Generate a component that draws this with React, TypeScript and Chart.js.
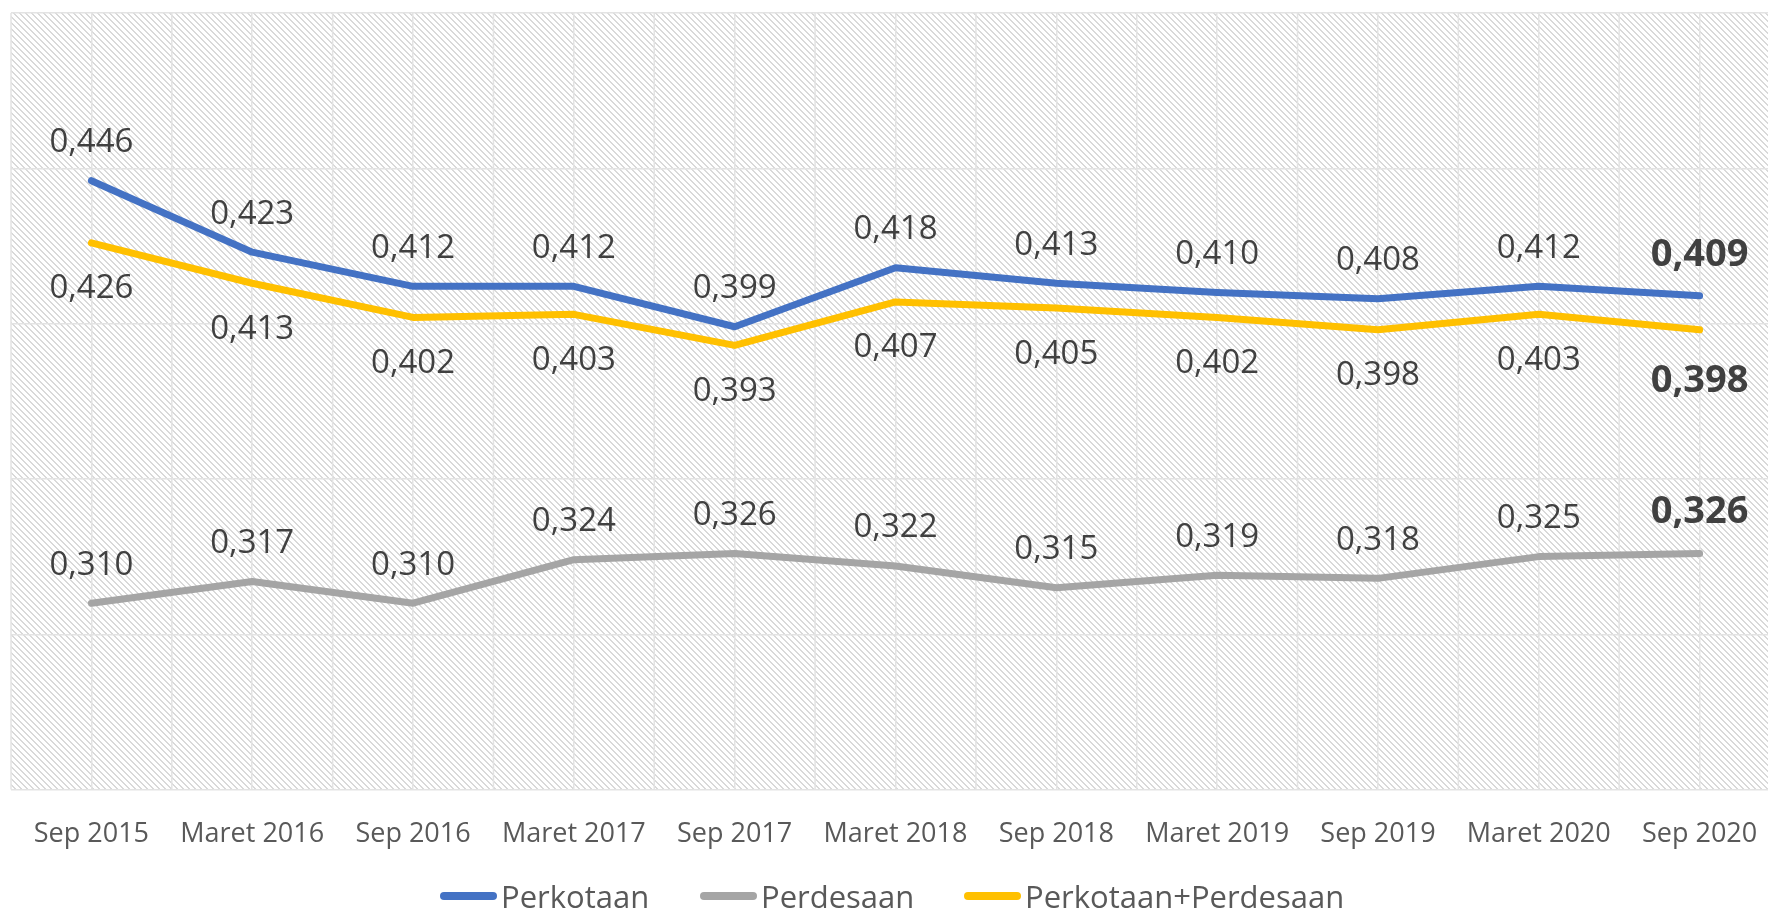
import React, { useEffect, useRef } from "react";
import { Chart, registerables } from "chart.js";

Chart.register(...registerables);

const categories = [
  "Sep 2015", "Maret 2016", "Sep 2016", "Maret 2017", "Sep 2017", "Maret 2018",
  "Sep 2018", "Maret 2019", "Sep 2019", "Maret 2020", "Sep 2020",
];
const perkotaan = [0.446, 0.423, 0.412, 0.412, 0.399, 0.418, 0.413, 0.41, 0.408, 0.412, 0.409];
const perdesaan = [0.31, 0.317, 0.31, 0.324, 0.326, 0.322, 0.315, 0.319, 0.318, 0.325, 0.326];
const gabungan = [0.426, 0.413, 0.402, 0.403, 0.393, 0.407, 0.405, 0.402, 0.398, 0.403, 0.398];
const seriesNames = ["Perkotaan", "Perdesaan", "Perkotaan+Perdesaan"];
const seriesColors = ["#4472C4", "#A5A5A5", "#FFC000"];
const labelSide = [-1, -1, 1]; // -1 above, +1 below
const yMin = 0.25;
const yMax = 0.5;
const yStep = 0.05;

const FONT = "'Open Sans', 'Noto Sans', sans-serif";

function makePattern(ctx: CanvasRenderingContext2D) {
  const c = document.createElement("canvas");
  c.width = 6;
  c.height = 6;
  const g = c.getContext("2d")!;
  g.fillStyle = "#ffffff";
  g.fillRect(0, 0, 6, 6);
  g.fillStyle = "#d9d9d9";
  for (let i = 0; i < 6; i++) {
    g.fillRect(i, i, 1, 1);
    g.fillRect((i + 1) % 6, i, 1, 1);
  }
  return ctx.createPattern(c, "repeat");
}

const backgroundPlugin = {
  id: "hatchBg",
  beforeDraw(chart: any) {
    const { ctx, chartArea } = chart;
    ctx.save();
    const p = makePattern(ctx);
    if (p) ctx.fillStyle = p;
    ctx.fillRect(chartArea.left, chartArea.top, chartArea.right - chartArea.left, chartArea.bottom - chartArea.top);
    ctx.restore();
  },
  beforeDatasetsDraw(chart: any) {
    const { ctx, chartArea } = chart;
    const xs = chart.scales.x;
    ctx.save();
    ctx.strokeStyle = "#e3e3e3";
    ctx.lineWidth = 1.5;
    for (let i = 0; i <= categories.length; i++) {
      const x = xs.getPixelForValue(i - 0.5);
      ctx.beginPath();
      ctx.moveTo(x, chartArea.top);
      ctx.lineTo(x, chartArea.bottom);
      ctx.stroke();
    }
    ctx.restore();
  },
};

const labelPlugin = {
  id: "valueLabels",
  afterDatasetsDraw(chart: any) {
    const { ctx } = chart;
    ctx.save();
    ctx.textAlign = "center";
    ctx.textBaseline = "middle";
    chart.data.datasets.forEach((ds: any, di: number) => {
      const meta = chart.getDatasetMeta(di);
      meta.data.forEach((pt: any, i: number) => {
        const last = i === ds.data.length - 1;
        const txt = Number(ds.data[i]).toFixed(3).replace(".", ",");
        ctx.fillStyle = "#404040";
        ctx.font = last ? `bold 38px ${FONT}` : `33px ${FONT}`;
        const below = labelSide[di] > 0;
        const off = last ? (below ? 51 : 41) : below ? 46 : 38;
        ctx.fillText(txt, pt.x, pt.y + labelSide[di] * off);
      });
    });
    ctx.restore();
  },
};

export default function App() {
  const ref = useRef<HTMLCanvasElement>(null);
  useEffect(() => {
    const cv = ref.current!;
    const chart = new Chart(cv, {
      type: "line",
      data: {
        labels: categories,
        datasets: [perkotaan, perdesaan, gabungan].map((d, i) => ({
          label: seriesNames[i],
          data: d,
          borderColor: seriesColors[i],
          backgroundColor: seriesColors[i],
          borderWidth: 7,
          pointRadius: 0,
          tension: 0,
          borderCapStyle: "round" as const,
          borderJoinStyle: "round" as const,
        })),
      },
      options: {
        responsive: false,
        animation: false,
        layout: { padding: { left: 11, right: 20, top: 13, bottom: 32 } },
        plugins: { legend: { display: false }, tooltip: { enabled: false } },
        scales: {
          x: {
            offset: true,
            grid: { color: "#e3e3e3", lineWidth: 1.5, drawTicks: false, offset: false },
            border: { display: false },
            ticks: { color: "#595959", font: { family: FONT, size: 27 }, padding: 29, maxRotation: 0, autoSkip: false },
          },
          y: {
            min: yMin,
            max: yMax,
            ticks: { display: false, stepSize: yStep },
            grid: { color: "#e3e3e3", lineWidth: 1.5, drawTicks: false },
            border: { display: false },
          },
        },
      },
      plugins: [backgroundPlugin, labelPlugin],
    });
    return () => chart.destroy();
  }, []);

  return (
    <div style={{ position: "fixed", left: 0, top: 0, width: "100vw", height: "100vh", overflow: "hidden", background: "#fff" }}>
      <canvas ref={ref} width={1800} height={912} style={{ position: "absolute", left: 0, top: 0, width: 1800, height: 912 }} />
      {seriesNames.map((n, i) => (
        <div key={n} style={{ position: "absolute", top: 874, left: [440, 700, 964][i], display: "flex", alignItems: "center", height: 44 }}>
          <div style={{ width: 57, height: 8, borderRadius: 4, background: seriesColors[i] }} />
          <span style={{ fontFamily: FONT, fontSize: 31, color: "#595959", whiteSpace: "nowrap", marginLeft: 4, lineHeight: "44px" }}>{n}</span>
        </div>
      ))}
    </div>
  );
}
